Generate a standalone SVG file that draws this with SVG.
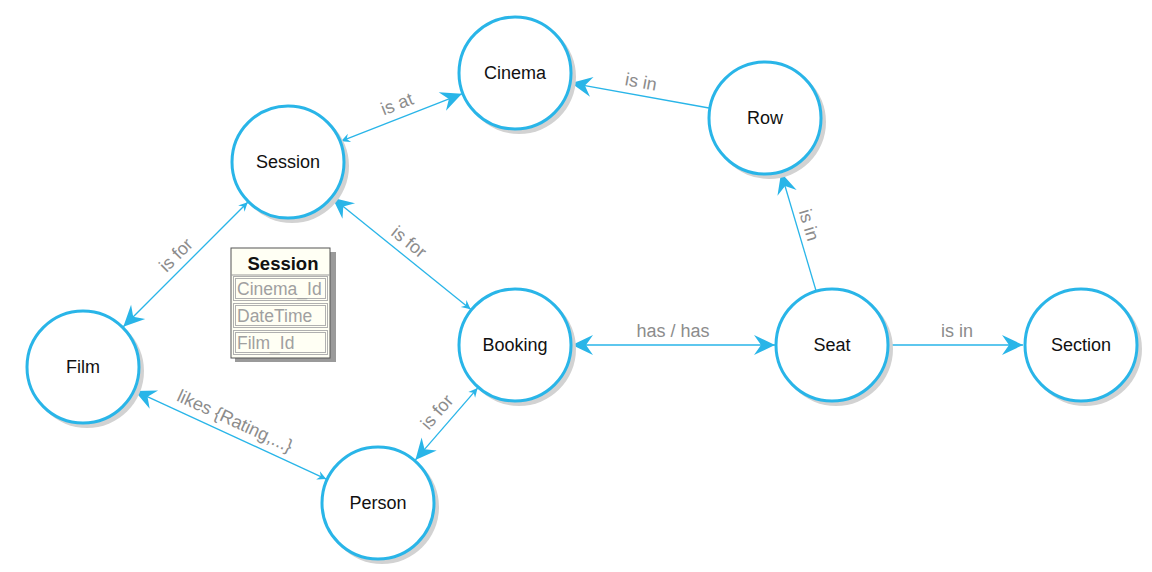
<svg xmlns="http://www.w3.org/2000/svg" width="1152" height="572" viewBox="0 0 1152 572">
<style>
.sh{fill:#d2d2d2}
.nd{fill:#fff;stroke:#29b5e8;stroke-width:3}
.nl{font-family:"Liberation Sans",Arial,sans-serif;font-size:18px;fill:#111;text-anchor:middle;dominant-baseline:central}
.e{stroke:#29b5e8;stroke-width:1.3;fill:none}
.el{font-family:"Liberation Sans",Arial,sans-serif;font-size:18px;fill:#8c8c8c;text-anchor:middle;dominant-baseline:central}
.tf{font-family:"Liberation Sans",Arial,sans-serif;font-size:17.5px;fill:#a0a0a0}
.rb{fill:none;stroke:#b0b0b0;stroke-width:1}
</style>
<defs>
<marker id="big" markerUnits="userSpaceOnUse" markerWidth="24" markerHeight="24" refX="0" refY="0" viewBox="-22 -12 24 24" orient="auto-start-reverse" overflow="visible">
<path d="M0,0 L-21,-10 L-14,0 L-21,10 Z" fill="#29b5e8"/>
</marker>
<marker id="small" markerUnits="userSpaceOnUse" markerWidth="12" markerHeight="12" refX="0" refY="0" viewBox="-10 -6 12 12" orient="auto-start-reverse" overflow="visible">
<path d="M0,0 L-9,-4.5 L-6,0 L-9,4.5 Z" fill="#29b5e8"/>
</marker>
</defs>
<rect width="1152" height="572" fill="#fff"/>
<g id="connectors">
<line class="e" x1="341.1" y1="141.2" x2="461.9" y2="93.8" marker-start="url(#small)" marker-end="url(#big)"/>
<text class="el" transform="translate(397,104) rotate(-21.4)">is at</text>
<line class="e" x1="709" y1="108" x2="571.1" y2="83.1" marker-end="url(#big)"/>
<text class="el" transform="translate(641,82) rotate(10.2)">is in</text>
<line class="e" x1="815.9" y1="290.3" x2="781.1" y2="172.7" marker-end="url(#big)"/>
<text class="el" transform="translate(809,225) rotate(73.6)">is in</text>
<line class="e" x1="247.7" y1="202.3" x2="123.3" y2="326.7" marker-start="url(#small)" marker-end="url(#big)"/>
<text class="el" transform="translate(176,255) rotate(-45)">is for</text>
<line class="e" x1="332.4" y1="197.8" x2="470.6" y2="309.2" marker-start="url(#big)" marker-end="url(#small)"/>
<text class="el" transform="translate(409,242) rotate(38.9)">is for</text>
<line class="e" x1="572" y1="345" x2="775" y2="345" marker-start="url(#big)" marker-end="url(#big)"/>
<text class="el" x="673" y="331">has / has</text>
<line class="e" x1="889" y1="345" x2="1023" y2="345" marker-end="url(#big)"/>
<text class="el" x="957" y="331">is in</text>
<line class="e" x1="134.8" y1="390.9" x2="326.2" y2="479.1" marker-start="url(#big)" marker-end="url(#small)"/>
<text class="el" transform="translate(235,421) rotate(24.7)">likes {Rating,...}</text>
<line class="e" x1="477.6" y1="388.1" x2="415.4" y2="459.9" marker-start="url(#small)" marker-end="url(#big)"/>
<text class="el" transform="translate(437,412) rotate(-49)">is for</text>
</g>
<g id="cinema"><circle class="sh" cx="519" cy="77" r="57"/><circle class="nd" cx="515" cy="73" r="56"/><text class="nl" x="515" y="73">Cinema</text></g>
<g id="row"><circle class="sh" cx="769" cy="122" r="57"/><circle class="nd" cx="765" cy="118" r="56"/><text class="nl" x="765" y="118">Row</text></g>
<g id="session"><circle class="sh" cx="292" cy="166" r="57"/><circle class="nd" cx="288" cy="162" r="56"/><text class="nl" x="288" y="162">Session</text></g>
<g id="booking"><circle class="sh" cx="519" cy="349" r="57"/><circle class="nd" cx="515" cy="345" r="56"/><text class="nl" x="515" y="345">Booking</text></g>
<g id="seat"><circle class="sh" cx="836" cy="349" r="57"/><circle class="nd" cx="832" cy="345" r="56"/><text class="nl" x="832" y="345">Seat</text></g>
<g id="section"><circle class="sh" cx="1085" cy="349" r="57"/><circle class="nd" cx="1081" cy="345" r="56"/><text class="nl" x="1081" y="345">Section</text></g>
<g id="film"><circle class="sh" cx="87" cy="371" r="57"/><circle class="nd" cx="83" cy="367" r="56"/><text class="nl" x="83" y="367">Film</text></g>
<g id="person"><circle class="sh" cx="382" cy="507" r="57"/><circle class="nd" cx="378" cy="503" r="56"/><text class="nl" x="378" y="503">Person</text></g>
<g id="session-table">
<rect x="330" y="252" width="6" height="110" fill="#9a9a9a"/>
<rect x="235" y="357" width="101" height="5" fill="#9a9a9a"/>
<rect x="231" y="248" width="99" height="110" fill="#fffff4" stroke="#555" stroke-width="1"/>
<text x="283" y="270" font-family="'Liberation Sans',Arial,sans-serif" font-size="18.5" font-weight="bold" fill="#111" text-anchor="middle">Session</text>
<line x1="231" y1="275" x2="330" y2="275" stroke="#999"/>
<rect class="rb" x="233.5" y="276.5" width="94" height="24"/>
<rect class="rb" x="235.5" y="278.5" width="90" height="20"/>
<text class="tf" x="237" y="295">Cinema_Id</text>
<rect class="rb" x="233.5" y="303.5" width="94" height="24"/>
<rect class="rb" x="235.5" y="305.5" width="90" height="20"/>
<text class="tf" x="237" y="322">DateTime</text>
<rect class="rb" x="233.5" y="330.5" width="94" height="24"/>
<rect class="rb" x="235.5" y="332.5" width="90" height="20"/>
<text class="tf" x="237" y="349">Film_Id</text>
</g>
</svg>
